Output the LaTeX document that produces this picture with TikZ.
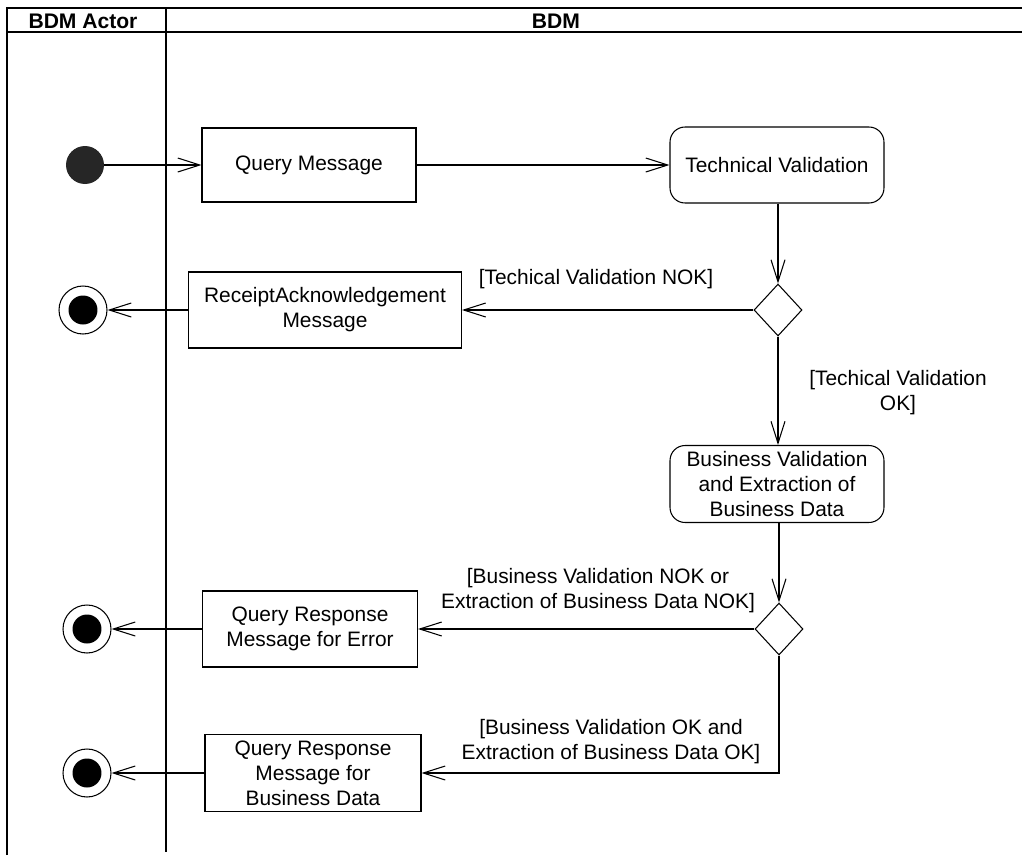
\documentclass[tikz,border=0pt]{standalone}
\usepackage{fontspec}
\setmainfont{Liberation Sans}
\usetikzlibrary{positioning,shapes.geometric,arrows.meta}
\newcommand{\bodysize}{\fontsize{11.9}{14.2}\selectfont}
\newcommand{\headsize}{\fontsize{12}{14}\selectfont\bfseries}
\newcommand{\finalnode}[2]{\node[endring] (#1) at (#2) {};
					\fill (#1.center) circle (0.29cm);}
\tikzset{
	flow/.style = {line width = 0.6pt, -{Straight Barb[length=0.44cm, width=0.28cm]}},
	msgbox/.style = {draw, line width = 0.6pt, rectangle, minimum width = 4.28cm, minimum height = 1.5cm, align = center, font = \bodysize},
	actbox/.style = {msgbox, rounded corners = 0.3cm},
	guard/.style = {align = center, inner sep = 0pt, font = \bodysize},
	startdot/.style = {circle, fill = black!85, minimum size = 0.76cm, inner sep = 0pt},
	endring/.style = {circle, draw, line width = 0.6pt, minimum size = 0.96cm, inner sep = 0pt},
	choice/.style = {diamond, draw, line width = 0.6pt, minimum width = 0.96cm, minimum height = 1.04cm, inner sep = 0pt}
}

\begin{document}
\begin{tikzpicture}[x = 0.02cm, y = -0.02cm]

	\useasboundingbox (0,0) rectangle (1022,856);

	% swimlanes
	\draw[line width = 0.8pt] (7,855) -- (7,8) -- (1022,8);
	\draw[line width = 0.8pt] (7,32) -- (1022,32);
	\draw[line width = 0.6pt] (166,8) -- (166,852);
	\node[font = \headsize] (laneactor) at (83,21) {BDM Actor};
	\node[font = \headsize] (lanebdm) at (556,21) {BDM};

	% actions
	\node[startdot] (start) at (85,165) {};
	\node[msgbox, minimum height = 1.48cm] (query) at (309,165) {Query Message};
	\node[actbox, minimum height = 1.52cm] (techval) at (777,165) {Technical Validation};
	\node[choice] (techdec) at (778,310) {};
	\node[msgbox, minimum width = 5.46cm, minimum height = 1.52cm] (receipt) at (325,310) {ReceiptAcknowledgement\\Message};
	\finalnode{endreceipt}{83,310}
	\node[actbox, minimum height = 1.52cm] (busval) at (777,484) {Business Validation\\and Extraction of\\Business Data};
	\node[choice] (busdec) at (779,629) {};
	\node[msgbox, minimum width = 4.3cm, minimum height = 1.52cm] (errresp) at (310,629) {Query Response\\Message for Error};
	\finalnode{enderr}{87,629}
	\node[msgbox, minimum width = 4.32cm, minimum height = 1.48cm] (dataresp) at (313,773) {Query Response\\Message for\\Business Data};
	\finalnode{enddata}{87,773}

	% flows
	\draw[flow] (start) -- (query);
	\draw[flow] (query) -- (techval);
	\draw[flow] (techval.south -| techdec) -- (techdec);
	\draw[flow] (techdec) -- (receipt);
	\draw[flow] (receipt) -- (endreceipt);
	\draw[flow] (techdec) -- (techdec |- busval.north);
	\draw[flow] (busval.south -| busdec) -- (busdec);
	\draw[flow] (busdec) -- (errresp);
	\draw[flow] (errresp) -- (enderr);
	\draw[flow] (busdec.south) |- (dataresp);
	\draw[flow] (dataresp) -- (enddata);

	% guards
	\node[guard] (gtechnok) at (596,279) {[Techical Validation NOK]};
	\node[guard] (gtechok) at (898,393) {[Techical Validation\\OK]};
	\node[guard] (gbusnok) at (598,591) {[Business Validation NOK or\\Extraction of Business Data NOK]};
	\node[guard] (gbusok) at (611,742) {[Business Validation OK and\\Extraction of Business Data OK]};

\end{tikzpicture}
\end{document}
